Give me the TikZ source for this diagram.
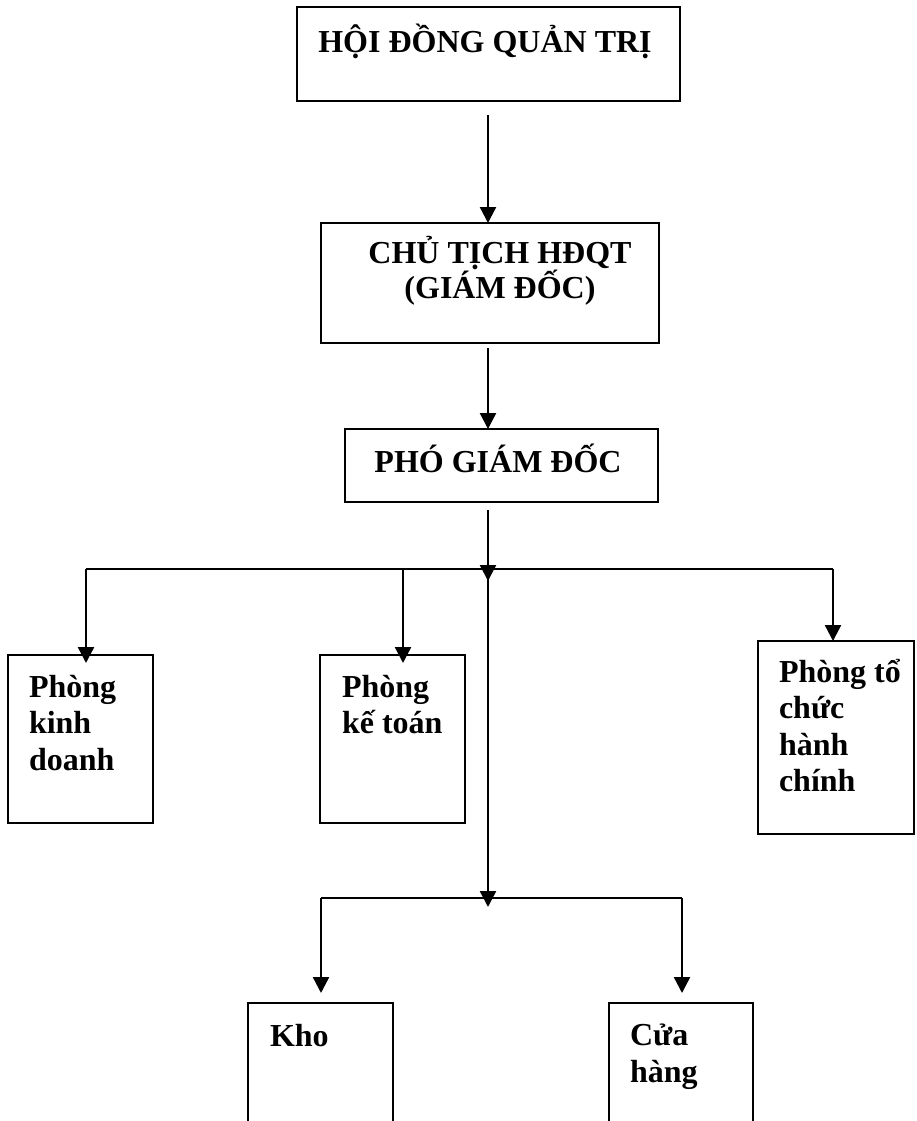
\documentclass[tikz,border=0pt]{standalone}
\usepackage{fontspec}
\setmainfont{Liberation Serif}
\usetikzlibrary{arrows.meta}
\tikzset{
  box/.style={draw, line width=2.4pt, rectangle, inner sep=0pt, outer sep=0pt, anchor=north west},
  lbl/.style={font=\bfseries\fontsize{32}{36.5}\selectfont, inner sep=0pt, outer sep=0pt},
  conn/.style={line width=2.4pt},
  arr/.style={conn, -{Triangle[length=16pt,width=16pt]}}
}
\begin{document}
\begin{tikzpicture}[x=1pt,y=-1pt]
\useasboundingbox (0,0) rectangle (916,1121);
\clip (0,0) rectangle (916,1121);
% boxes
\node[box, minimum width=383pt, minimum height=94pt] (top) at (297,7) {};
\node[box, minimum width=338pt, minimum height=120pt] (chu) at (321,223) {};
\node[box, minimum width=313pt, minimum height=73pt] (pho) at (345,429) {};
\node[box, minimum width=145pt, minimum height=168pt] (kd) at (8,655) {};
\node[box, minimum width=145pt, minimum height=168pt] (kt) at (320,655) {};
\node[box, minimum width=156pt, minimum height=193pt] (tc) at (758,641) {};
\node[box, minimum width=145pt, minimum height=200pt] (kho) at (248,1003) {};
\node[box, minimum width=144pt, minimum height=200pt] (ch) at (609,1003) {};
% texts (anchor base = baseline of the last line)
\node[lbl, anchor=base] (ttop) at (485,53) {HỘI ĐỒNG QUẢN TRỊ};
\node[lbl, anchor=base, align=center] (tchu) at (500,298) {CHỦ TỊCH HĐQT\\[-1.5pt](GIÁM ĐỐC)};
\node[lbl, anchor=base] (tpho) at (498,472) {PHÓ GIÁM ĐỐC};
\node[lbl, anchor=base west, align=left] (tkd) at (29,770) {Phòng\\kinh\\doanh};
\node[lbl, anchor=base west, align=left] (tkt) at (342,733.5) {Phòng\\kế toán};
\node[lbl, anchor=base west, align=left] (ttc) at (779,791.5) {Phòng tổ\\chức\\hành\\chính};
\node[lbl, anchor=base west] (tkho) at (270,1046) {Kho};
\node[lbl, anchor=base west, align=left] (tch) at (630,1082) {Cửa\\hàng};
% spine and junctions
\coordinate (sp) at (488,0);
\coordinate (j1) at (488,569);
\coordinate (j2) at (488,898);
\coordinate (h1l) at (86,569);
\coordinate (h1k) at (403,569);
\coordinate (h1r) at (833,569);
\coordinate (h2l) at (321,898);
\coordinate (h2r) at (682,898);
% connectors
\draw[arr] ([yshift=-14pt]top.south -| sp) -- (chu.north -| sp);
\draw[arr] ([yshift=-5pt]chu.south -| sp) -- (pho.north -| sp);
\draw[arr] ([yshift=-8pt]pho.south -| sp) -- ([yshift=-12pt]j1);
\draw[conn] (h1l) -- (h1r);
\draw[arr] (h1l) -- ([yshift=-8pt]kd.north -| h1l);
\draw[arr] (h1k) -- ([yshift=-8pt]kt.north -| h1k);
\draw[arr] (h1r) -- (tc.north -| h1r);
\draw[arr] (j1) -- ([yshift=-9pt]j2);
\draw[conn] (h2l) -- (h2r);
\draw[arr, shorten >=10pt] (h2l) -- (kho.north -| h2l);
\draw[arr, shorten >=10pt] (h2r) -- (ch.north -| h2r);
\end{tikzpicture}
\end{document}
